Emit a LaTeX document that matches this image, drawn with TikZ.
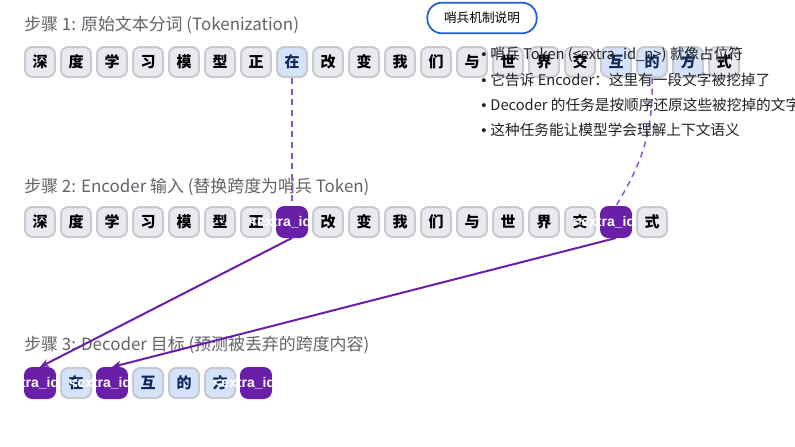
\documentclass[tikz,border=0pt]{standalone}
\usepackage{fontspec}
\setmainfont{Noto Sans CJK SC}
\newfontfamily\latf{Liberation Sans}
\usetikzlibrary{arrows.meta}
\definecolor{boxgray}{HTML}{C8C9CC}
\definecolor{boxfill}{HTML}{E9EAEF}
\definecolor{hlfill}{HTML}{D5E3FA}
\definecolor{hltext}{HTML}{0F2A5A}
\definecolor{sentc}{HTML}{6A1FA8}
\definecolor{dashc}{HTML}{8F4FD3}
\definecolor{labelgray}{HTML}{5F6368}
\definecolor{bodytext}{HTML}{202124}
\definecolor{calloutblue}{HTML}{1A5FD4}
\newcommand\ltn[1]{{\latf #1}}
\newcommand\sentl[1]{\makebox[0pt]{\latf\bfseries <extra\_id\_#1>}}
\tikzset{
  tokbase/.style={rounded corners=5.5pt, line width=1.5pt, minimum width=22.5pt,
    minimum height=22.5pt, inner sep=0pt, font=\fontsize{11.25pt}{12pt}\selectfont\bfseries},
  tok/.style={tokbase, draw=boxgray, fill=boxfill, text=black},
  hl/.style={tokbase, draw=boxgray, fill=hlfill, text=hltext},
  sent/.style={tokbase, draw=sentc, fill=sentc, text=white, font=\fontsize{10.5pt}{11pt}\selectfont\bfseries},
  steplabel/.style={anchor=west, inner sep=0pt, text=labelgray, font=\fontsize{12.7pt}{14pt}\selectfont},
  bullet/.style={anchor=west, inner sep=0pt, text=bodytext, font=\fontsize{11pt}{12pt}\selectfont},
  dashlink/.style={draw=dashc, line width=1.1pt, dash pattern=on 4.5pt off 3.5pt},
  maplink/.style={draw=sentc, line width=1.5pt, -{Stealth[length=7pt,width=6pt]}},
  callout/.style={draw=calloutblue, line width=1.3pt, fill=white, rounded corners=11pt,
    minimum width=82pt, minimum height=23pt, font=\fontsize{9.5pt}{11pt}\selectfont}
}
\begin{document}
\begin{tikzpicture}[x=0.75pt,y=-0.75pt]
\useasboundingbox (0,0) rectangle (795,446);
\clip (0,0) rectangle (795,446);
% labels
\node[steplabel] (l1) at (24,25) {步骤 1: 原始文本分词 (Tokenization)};
\node[steplabel] (l2) at (24,187) {步骤 2: Encoder 输入 (替换跨度为哨兵 Token)};
\node[steplabel] (l3) at (24,345) {步骤 3: Decoder 目标 (预测被丢弃的跨度内容)};
% row 1
\foreach \ch/\s [count=\i] in {深/tok,度/tok,学/tok,习/tok,模/tok,型/tok,正/tok,在/hl,改/tok,变/tok,我/tok,们/tok,与/tok,世/tok,界/tok,交/tok,互/hl,的/hl,方/hl,式/tok}
  \node[\s] (r1-\i) at ({40+36*(\i-1)},62) {\ch};
% row 2
\foreach \ch/\s [count=\i] in {深/tok,度/tok,学/tok,习/tok,模/tok,型/tok,正/tok,\sentl{0}/sent,改/tok,变/tok,我/tok,们/tok,与/tok,世/tok,界/tok,交/tok,\sentl{1}/sent,式/tok}
  \node[\s] (r2-\i) at ({40+36*(\i-1)},222) {\ch};
% row 3
\foreach \ch/\s [count=\i] in {\sentl{0}/sent,在/hl,\sentl{1}/sent,互/hl,的/hl,方/hl,\sentl{2}/sent}
  \node[\s] (r3-\i) at ({40+36*(\i-1)},383) {\ch};
% dashed links
\draw[dashlink] (r1-8.south) -- (r2-8.north);
\coordinate (k1) at (654,140);
\coordinate (k2) at (636,172);
\draw[dashlink] (r1-18.south) .. controls (k1) and (k2) .. (r2-17.north);
% solid mapping arrows
\draw[maplink] (r2-8.south) -- (r3-1.north);
\draw[maplink] (r2-17.south) -- (r3-3.north);
% explanation
\node[bullet] (b1) at (481,55) {\ltn{• }哨兵 Token (<extra\_id\_n>) 就像占位符};
\node[bullet] (b2) at (481,80) {\ltn{• }它告诉 Encoder：这里有一段文字被挖掉了};
\node[bullet] (b3) at (481,105) {\ltn{• }Decoder 的任务是按顺序还原这些被挖掉的文字};
\node[bullet] (b4) at (481,130) {\ltn{• }这种任务能让模型学会理解上下文语义};
\node[callout] (co) at (482,18) {哨兵机制说明};
\end{tikzpicture}
\end{document}
